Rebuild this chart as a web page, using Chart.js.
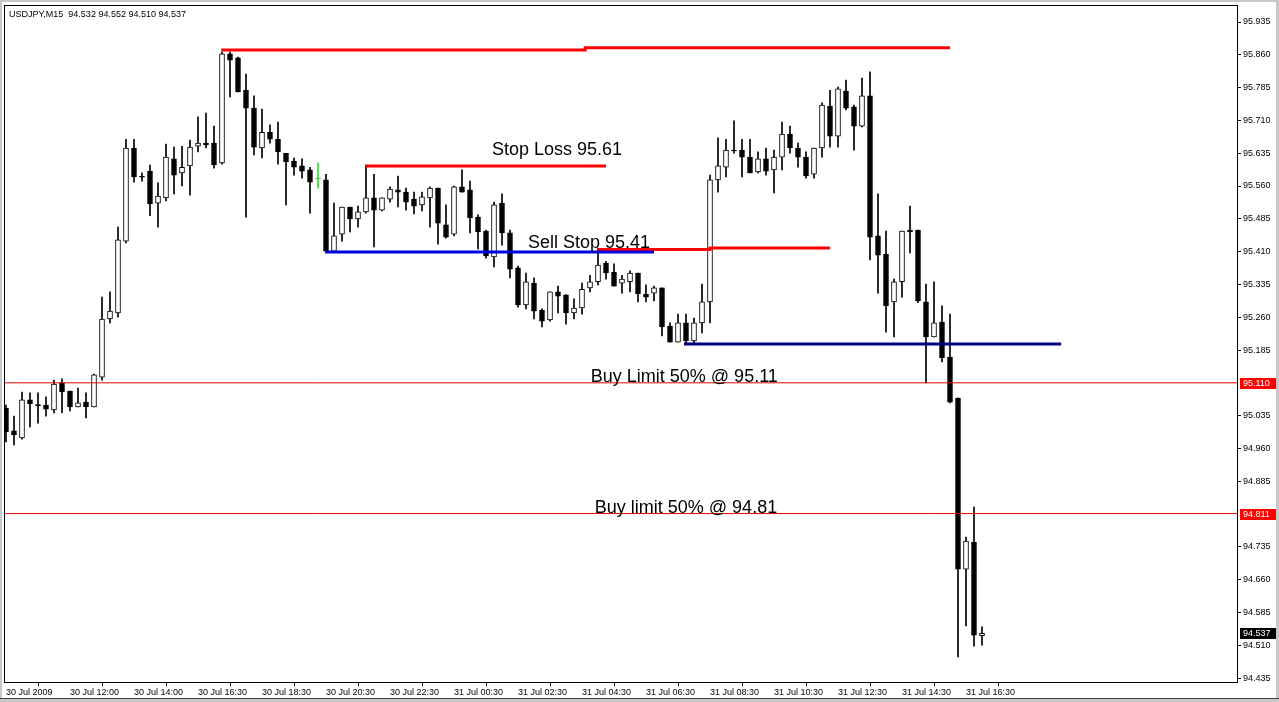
<!DOCTYPE html>
<html>
<head>
<meta charset="utf-8">
<title>USDJPY,M15</title>
<script src="https://cdn.jsdelivr.net/npm/chart.js@4.4.1/dist/chart.umd.min.js"></script>
<style>
  html, body { margin: 0; padding: 0; background: #fff; overflow: hidden; }
  canvas { display: block; }
</style>
</head>
<body>
<canvas id="a" width="1279" height="702"></canvas>
<script>
const symbol = "USDJPY,M15";

// M15 bars, one per slot, oldest first
const opens = [95.052, 95.000, 94.984, 95.071, 95.060, 95.059, 95.048, 95.110, 95.091, 95.055,
  95.066, 95.055, 95.123, 95.256, 95.270, 95.434, 95.647, 95.581, 95.594, 95.521,
  95.533, 95.622, 95.590, 95.606, 95.651, 95.658, 95.658, 95.613, 95.862, 95.853,
  95.779, 95.738, 95.647, 95.683, 95.667, 95.635, 95.617, 95.606, 95.597, 95.576,
  95.574, 95.411, 95.450, 95.512, 95.485, 95.501, 95.533, 95.505, 95.530, 95.551,
  95.546, 95.530, 95.517, 95.533, 95.555, 95.471, 95.450, 95.558, 95.551, 95.489,
  95.457, 95.398, 95.521, 95.453, 95.373, 95.288, 95.338, 95.276, 95.254, 95.318,
  95.311, 95.270, 95.281, 95.327, 95.341, 95.384, 95.363, 95.338, 95.341, 95.361,
  95.313, 95.315, 95.327, 95.240, 95.203, 95.247, 95.206, 95.247, 95.295, 95.574,
  95.603, 95.642, 95.642, 95.626, 95.592, 95.622, 95.597, 95.626, 95.679, 95.647,
  95.626, 95.587, 95.647, 95.743, 95.674, 95.777, 95.741, 95.697, 95.766, 95.446,
  95.404, 95.295, 95.341, 95.459, 95.459, 95.295, 95.215, 95.249, 95.169, 95.075,
  94.684, 94.746, 94.532];
const highs = [95.059, 95.034, 95.089, 95.087, 95.087, 95.078, 95.116, 95.119, 95.091, 95.098,
  95.087, 95.130, 95.306, 95.318, 95.466, 95.667, 95.667, 95.590, 95.608, 95.567,
  95.656, 95.649, 95.651, 95.665, 95.718, 95.727, 95.697, 95.866, 95.866, 95.855,
  95.816, 95.766, 95.736, 95.700, 95.706, 95.635, 95.624, 95.622, 95.603, 95.613,
  95.587, 95.521, 95.512, 95.512, 95.514, 95.608, 95.587, 95.533, 95.558, 95.583,
  95.555, 95.546, 95.546, 95.558, 95.555, 95.517, 95.560, 95.597, 95.571, 95.494,
  95.459, 95.523, 95.542, 95.459, 95.377, 95.361, 95.350, 95.279, 95.318, 95.331,
  95.311, 95.302, 95.338, 95.356, 95.418, 95.388, 95.382, 95.356, 95.366, 95.361,
  95.334, 95.331, 95.327, 95.247, 95.267, 95.267, 95.258, 95.336, 95.585, 95.670,
  95.667, 95.709, 95.667, 95.667, 95.638, 95.647, 95.642, 95.706, 95.697, 95.658,
  95.638, 95.647, 95.750, 95.779, 95.786, 95.802, 95.745, 95.807, 95.821, 95.542,
  95.457, 95.347, 95.457, 95.514, 95.459, 95.336, 95.341, 95.286, 95.267, 95.075,
  94.757, 94.826, 94.552];
const lows = [94.975, 94.968, 94.981, 95.009, 95.018, 95.034, 95.041, 95.041, 95.046, 95.055,
  95.030, 95.055, 95.116, 95.247, 95.260, 95.430, 95.569, 95.571, 95.492, 95.466,
  95.526, 95.542, 95.560, 95.539, 95.638, 95.647, 95.601, 95.610, 95.764, 95.775,
  95.489, 95.631, 95.624, 95.658, 95.610, 95.517, 95.585, 95.578, 95.498, 95.555,
  95.411, 95.411, 95.434, 95.455, 95.466, 95.498, 95.421, 95.503, 95.523, 95.512,
  95.505, 95.496, 95.503, 95.466, 95.427, 95.441, 95.446, 95.546, 95.453, 95.416,
  95.395, 95.375, 95.425, 95.350, 95.283, 95.279, 95.256, 95.238, 95.251, 95.270,
  95.244, 95.256, 95.267, 95.318, 95.334, 95.347, 95.331, 95.315, 95.318, 95.295,
  95.295, 95.297, 95.217, 95.203, 95.203, 95.201, 95.201, 95.224, 95.247, 95.546,
  95.581, 95.635, 95.581, 95.590, 95.590, 95.585, 95.544, 95.597, 95.635, 95.603,
  95.578, 95.578, 95.626, 95.649, 95.649, 95.734, 95.642, 95.695, 95.391, 95.315,
  95.226, 95.215, 95.306, 95.407, 95.293, 95.110, 95.215, 95.158, 95.064, 94.483,
  94.554, 94.508, 94.510];
const closes = [94.998, 94.991, 95.071, 95.062, 95.058, 95.050, 95.107, 95.089, 95.055, 95.064,
  95.055, 95.128, 95.256, 95.274, 95.437, 95.647, 95.581, 95.580, 95.519, 95.537,
  95.626, 95.585, 95.603, 95.649, 95.658, 95.654, 95.608, 95.862, 95.848, 95.775,
  95.738, 95.649, 95.683, 95.667, 95.638, 95.615, 95.603, 95.594, 95.569, 95.576,
  95.411, 95.446, 95.512, 95.485, 95.501, 95.533, 95.505, 95.533, 95.553, 95.546,
  95.523, 95.514, 95.535, 95.555, 95.475, 95.443, 95.558, 95.546, 95.487, 95.455,
  95.400, 95.517, 95.453, 95.370, 95.288, 95.341, 95.274, 95.251, 95.318, 95.308,
  95.270, 95.281, 95.324, 95.341, 95.379, 95.361, 95.331, 95.347, 95.361, 95.313,
  95.306, 95.327, 95.238, 95.203, 95.247, 95.206, 95.247, 95.295, 95.574, 95.606,
  95.642, 95.640, 95.626, 95.590, 95.622, 95.594, 95.626, 95.679, 95.647, 95.626,
  95.583, 95.647, 95.745, 95.674, 95.782, 95.738, 95.697, 95.766, 95.443, 95.402,
  95.286, 95.341, 95.457, 95.455, 95.297, 95.215, 95.247, 95.167, 95.066, 94.684,
  94.748, 94.533, 94.537];

const timeLabels = ["30 Jul 2009", "30 Jul 12:00", "30 Jul 14:00", "30 Jul 16:30", "30 Jul 18:30",
  "30 Jul 20:30", "30 Jul 22:30", "31 Jul 00:30", "31 Jul 02:30", "31 Jul 04:30",
  "31 Jul 06:30", "31 Jul 08:30", "31 Jul 10:30", "31 Jul 12:30", "31 Jul 14:30", "31 Jul 16:30"];
const timeLabelBars = [0, 8, 16, 24, 32, 40, 48, 56, 64, 72, 80, 88, 96, 104, 112, 120];

const priceTicks = [95.935, 95.860, 95.785, 95.710, 95.635, 95.560, 95.485, 95.410, 95.335,
  95.260, 95.185, 95.035, 94.960, 94.885, 94.735, 94.660, 94.585, 94.510, 94.435];
const limitPrices = [95.110, 94.811];
const lastPrice = 94.537;

// trend lines as [bar, price] points
const highLine = [[26.9, 95.871], [72.4, 95.871], [72.4, 95.876], [118, 95.876]];
const stopLossLine = [[44.9, 95.606], [75, 95.606]];
const sellStopLine = [[39.9, 95.409], [81, 95.409]];
const entryLine = [[73.9, 95.415], [88, 95.415], [88, 95.418], [103, 95.418]];
const lowLine = [[84.75, 95.199], [131.9, 95.199]];

const notes = [
  ["Stop Loss 95.61", 60.75, 95.631],
  ["Sell Stop 95.41", 65.25, 95.418],
  ["Buy Limit 50% @ 95.11", 73.1, 95.112],
  ["Buy limit 50% @ 94.81", 73.6, 94.812],
];

const X_MIN = -0.25, X_MAX = 153.875;
const FONT = "'Liberation Sans', Arial, sans-serif";

const bars = opens.map((o, i) => i);
// doji with open == close is drawn in the line colour, like MT4 does
const candleColor = bars.map(i =>
  opens[i] === closes[i] ? "#33d633" : closes[i] > opens[i] ? "#ffffff" : "#000000");
const edgeColor = bars.map(i => opens[i] === closes[i] ? "#33d633" : "#000000");

const trend = (arr, color, width) => ({
  type: "line",
  data: arr.map(([x, y]) => ({ x, y })),
  borderColor: color,
  borderWidth: width,
  borderCapStyle: "butt",
  pointRadius: 0,
  fill: false,
  tension: 0,
  order: 0,
});

const decor = {
  id: "decor",
  beforeDraw(chart) {
    const c = chart.ctx;
    c.save();
    c.fillStyle = "#ffffff";
    c.fillRect(0, 0, chart.width, chart.height);
    c.fillStyle = "#c8c8c8";
    c.fillRect(0, 0, chart.width, 2);
    c.fillRect(0, 0, 2, chart.height);
    c.fillRect(chart.width - 3, 0, 3, chart.height);
    c.fillRect(0, chart.height - 3, chart.width, 3);
    c.fillStyle = "#404040";
    c.fillRect(0, chart.height - 4, chart.width, 1);
    c.restore();
  },
  afterDatasetsDraw(chart) {
    const c = chart.ctx, xs = chart.scales.x, ys = chart.scales.y;
    c.save();
    c.fillStyle = "#000";
    c.font = "18px " + FONT;
    c.textAlign = "left";
    c.textBaseline = "alphabetic";
    notes.forEach(([t, b, p]) => c.fillText(t, xs.getPixelForValue(b), ys.getPixelForValue(p)));
    c.restore();
  },
  afterDraw(chart) {
    const c = chart.ctx, a = chart.chartArea, ys = chart.scales.y;
    c.save();
    c.strokeStyle = "#000";
    c.lineWidth = 1;
    c.strokeRect(a.left + 0.5, a.top + 0.5, a.right - a.left, a.bottom - a.top);

    c.font = "9px " + FONT;
    c.textBaseline = "middle";
    c.textAlign = "left";
    const tag = (p, bg) => {
      const y = Math.round(ys.getPixelForValue(p));
      c.fillStyle = bg;
      c.fillRect(a.right + 3, y - 5, 36, 11);
      c.fillStyle = "#fff";
      c.fillText(p.toFixed(3), a.right + 6, y + 0.5);
    };
    limitPrices.forEach(p => tag(p, "#ff0000"));
    tag(lastPrice, "#000000");

    const n = opens.length - 1;
    c.fillStyle = "#000";
    c.fillText(symbol + "  " + [opens[n], highs[n], lows[n], closes[n]].map(v => v.toFixed(3)).join(" "),
      a.left + 5, a.top + 10);
    c.restore();
  },
};

new Chart(document.querySelector("#a").getContext("2d"), {
  type: "bar",
  data: {
    datasets: [
      trend(highLine, "#ff0000", 3),
      trend(stopLossLine, "#ff0000", 3),
      trend(sellStopLine, "#0000dd", 3),
      trend(entryLine, "#ff0000", 3),
      trend(lowLine, "#000080", 3),
      ...limitPrices.map(p => trend([[X_MIN, p], [X_MAX, p]], "#e00000", 1)),
      {
        label: "body",
        data: bars.map(i => ({ x: i, y: [Math.min(opens[i], closes[i]), Math.max(opens[i], closes[i])] })),
        backgroundColor: candleColor,
        borderColor: edgeColor,
        borderWidth: 1,
        borderSkipped: false,
        barThickness: 5,
        minBarLength: 1,
        grouped: false,
        order: 1,
      },
      {
        label: "wick",
        data: bars.map(i => ({ x: i, y: [lows[i], highs[i]] })),
        backgroundColor: edgeColor,
        borderWidth: 0,
        barThickness: 1,
        grouped: false,
        order: 2,
      },
    ],
  },
  options: {
    responsive: false,
    animation: false,
    events: [],
    layout: { padding: { left: 4, top: 5, right: 0, bottom: 0 } },
    plugins: { legend: { display: false }, tooltip: { enabled: false } },
    scales: {
      x: {
        type: "linear",
        min: X_MIN,
        max: X_MAX,
        offset: false,
        afterBuildTicks: s => { s.ticks = timeLabelBars.map(v => ({ value: v })); },
        afterFit: s => { s.height = 20; s.paddingLeft = 0; s.paddingRight = 0; },
        grid: { drawOnChartArea: false, drawTicks: true, tickLength: 4, color: "#000" },
        border: { display: false },
        ticks: {
          autoSkip: false,
          maxRotation: 0,
          align: "start",
          padding: 1,
          color: "#000",
          font: { family: FONT, size: 9 },
          callback: (v, i) => timeLabels[i],
        },
      },
      y: {
        position: "right",
        min: 94.4259,
        max: 95.9739,
        afterBuildTicks: s => { s.ticks = priceTicks.map(v => ({ value: v })); },
        afterFit: s => { s.width = 42; s.paddingTop = 0; s.paddingBottom = 0; },
        grid: { drawOnChartArea: false, drawTicks: true, tickLength: 4, color: "#000" },
        border: { display: false },
        ticks: {
          autoSkip: false,
          padding: 2,
          color: "#000",
          font: { family: FONT, size: 9 },
          callback: v => v.toFixed(3),
        },
      },
    },
  },
  plugins: [decor],
});
</script>
</body>
</html>
